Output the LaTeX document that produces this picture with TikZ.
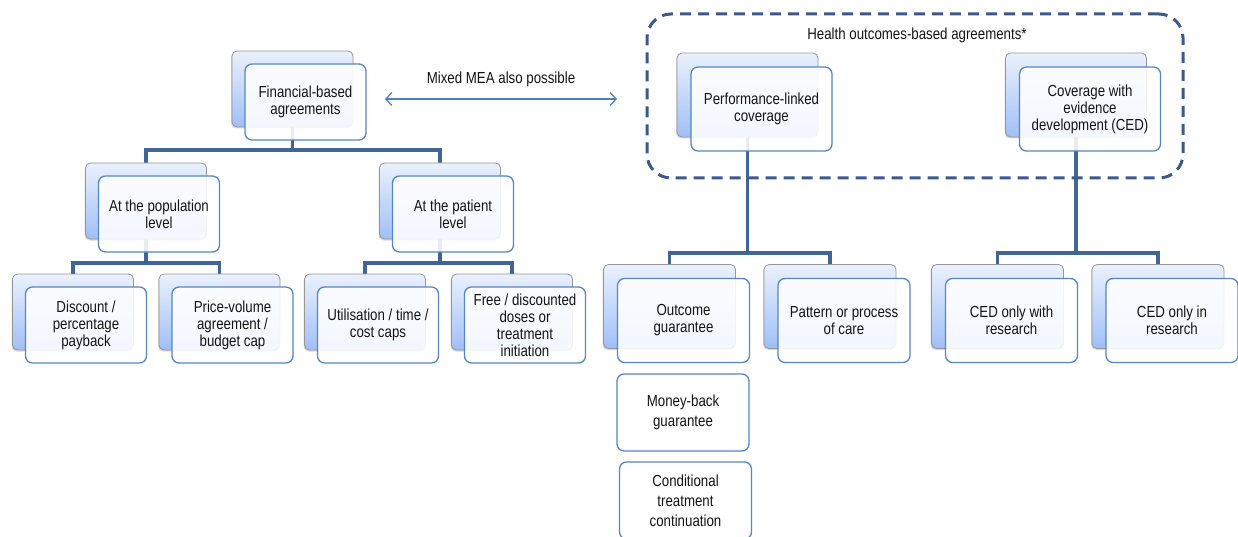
\documentclass[tikz,border=0pt]{standalone}
\usepackage{fontspec}
\setmainfont[FakeStretch=0.83]{Liberation Sans}
\usetikzlibrary{arrows.meta,backgrounds,shadows}

\definecolor{linkblue}{RGB}{64,101,152}
\definecolor{frameblue}{RGB}{58,90,138}
\definecolor{edgeblue}{RGB}{86,134,196}
\definecolor{arrowblue}{RGB}{79,129,189}
\definecolor{backtop}{RGB}{234,241,253}
\definecolor{backbot}{RGB}{160,191,247}
\definecolor{backedge}{RGB}{150,150,150}
\definecolor{inktext}{RGB}{20,20,20}

\begin{document}
\begin{tikzpicture}[
  x=1pt,y=-1pt,
  font=\fontsize{16}{17}\selectfont,
  back/.style={draw=backedge,line width=0.8pt,rounded corners=5pt,top color=backtop,bottom color=backbot,
    drop shadow={shadow xshift=-1pt,shadow yshift=-1.5pt,opacity=.3}},
  card/.style={draw=edgeblue,line width=1.3pt,rounded corners=7pt,fill=white,fill opacity=.88,
    text opacity=1,text=inktext,align=center,inner sep=2pt},
  lvA/.style={minimum width=121pt,minimum height=76pt},
  lvB/.style={minimum width=141pt,minimum height=84pt},
  lvC/.style={minimum width=132pt,minimum height=84pt},
  lvD/.style={minimum width=132pt,minimum height=77pt,font=\fontsize{16}{20}\selectfont},
  link/.style={draw=linkblue,line width=3.5pt},
  group/.style={draw=frameblue,line width=3pt,dash pattern=on 11pt off 7pt,rounded corners=24pt,
    minimum width=536pt,minimum height=164pt},
  mix/.style={draw=arrowblue,line width=1.3pt,{Straight Barb[length=6pt,width=13pt]}-{Straight Barb[length=6pt,width=13pt]}}
]
  \useasboundingbox (0,0) rectangle (1238,537);

  % financial-based side
  \node[back,lvA] (fin) at (292.5,89) {};
  \node[card,lvA] (fin-t) at ([shift={(13,13)}]fin.center) {Financial-based\\agreements};
  \node[back,lvA] (pop) at (146,201) {};
  \node[card,lvA] (pop-t) at ([shift={(13,13)}]pop.center) {At the population\\level};
  \node[back,lvA] (pat) at (440,201) {};
  \node[card,lvA] (pat-t) at ([shift={(13,13)}]pat.center) {At the patient\\level};
  \node[back,lvA] (disc) at (73,312) {};
  \node[card,lvA] (disc-t) at ([shift={(13,13)}]disc.center) {Discount /\\percentage\\payback};
  \node[back,lvA] (pvol) at (219.5,312) {};
  \node[card,lvA] (pvol-t) at ([shift={(13,13)}]pvol.center) {Price-volume\\agreement /\\budget cap};
  \node[back,lvA] (caps) at (365,312) {};
  \node[card,lvA] (caps-t) at ([shift={(13,13)}]caps.center) {Utilisation / time /\\cost caps};
  \node[back,lvA] (free) at (512,312) {};
  \node[card,lvA] (free-t) at ([shift={(13,13)}]free.center) {Free / discounted\\doses or\\treatment\\initiation};

  % health outcomes-based side
  \node[group] (hoba) at (915,96) {};
  \node[text=inktext] (hoba-l) at (917,35) {Health outcomes-based agreements*};
  \node[back,lvB] (perf) at (747.5,95) {};
  \node[card,lvB] (perf-t) at ([shift={(14,14)}]perf.center) {Performance-linked\\coverage};
  \node[back,lvB] (ced) at (1076,95) {};
  \node[card,lvB] (ced-t) at ([shift={(14,14)}]ced.center) {Coverage with\\evidence\\development (CED)};
  \node[back,lvC] (outc) at (669.5,306.5) {};
  \node[card,lvC] (outc-t) at ([shift={(14,14)}]outc.center) {Outcome\\guarantee};
  \node[back,lvC] (patt) at (830,306.5) {};
  \node[card,lvC] (patt-t) at ([shift={(14,14)}]patt.center) {Pattern or process\\of care};
  \node[back,lvC] (cedw) at (997.5,306.5) {};
  \node[card,lvC] (cedw-t) at ([shift={(14,14)}]cedw.center) {CED only with\\research};
  \node[back,lvC] (cedi) at (1158,306.5) {};
  \node[card,lvC] (cedi-t) at ([shift={(14,14)}]cedi.center) {CED only in\\research};
  \node[card,lvD,fill opacity=1] (mbg) at (683,412.5) {Money-back\\guarantee};
  \node[card,lvD,fill opacity=1] (ctc) at (685.5,500.5) {Conditional\\treatment\\continuation};

  \coordinate (finbar) at (0,150);
  \coordinate (lowbar) at (0,263);
  \coordinate (hobbar) at (0,253);
  \coordinate (mixL) at (385,99);
  \coordinate (mixR) at (617,99);

  \draw[mix] (mixL) -- node[above=8pt,text=inktext] (mix-l) {Mixed MEA also possible} (mixR);

  \begin{scope}[on background layer]
    \draw[link] (fin.south) -- (fin.south |- finbar) -| (pop.north);
    \draw[link] (fin.south |- finbar) -| (pat.north);
    \draw[link] (pop.south) -- (pop.south |- lowbar) -| (disc.north);
    \draw[link] (pop.south |- lowbar) -| (pvol.north);
    \draw[link] (pat.south) -- (pat.south |- lowbar) -| (caps.north);
    \draw[link] (pat.south |- lowbar) -| (free.north);
    \draw[link] (perf.south) -- (perf.south |- hobbar) -| (outc.north);
    \draw[link] (perf.south |- hobbar) -| (patt.north);
    \draw[link] (ced.south) -- (ced.south |- hobbar) -| (cedw.north);
    \draw[link] (ced.south |- hobbar) -| (cedi.north);
  \end{scope}
\end{tikzpicture}
\end{document}
